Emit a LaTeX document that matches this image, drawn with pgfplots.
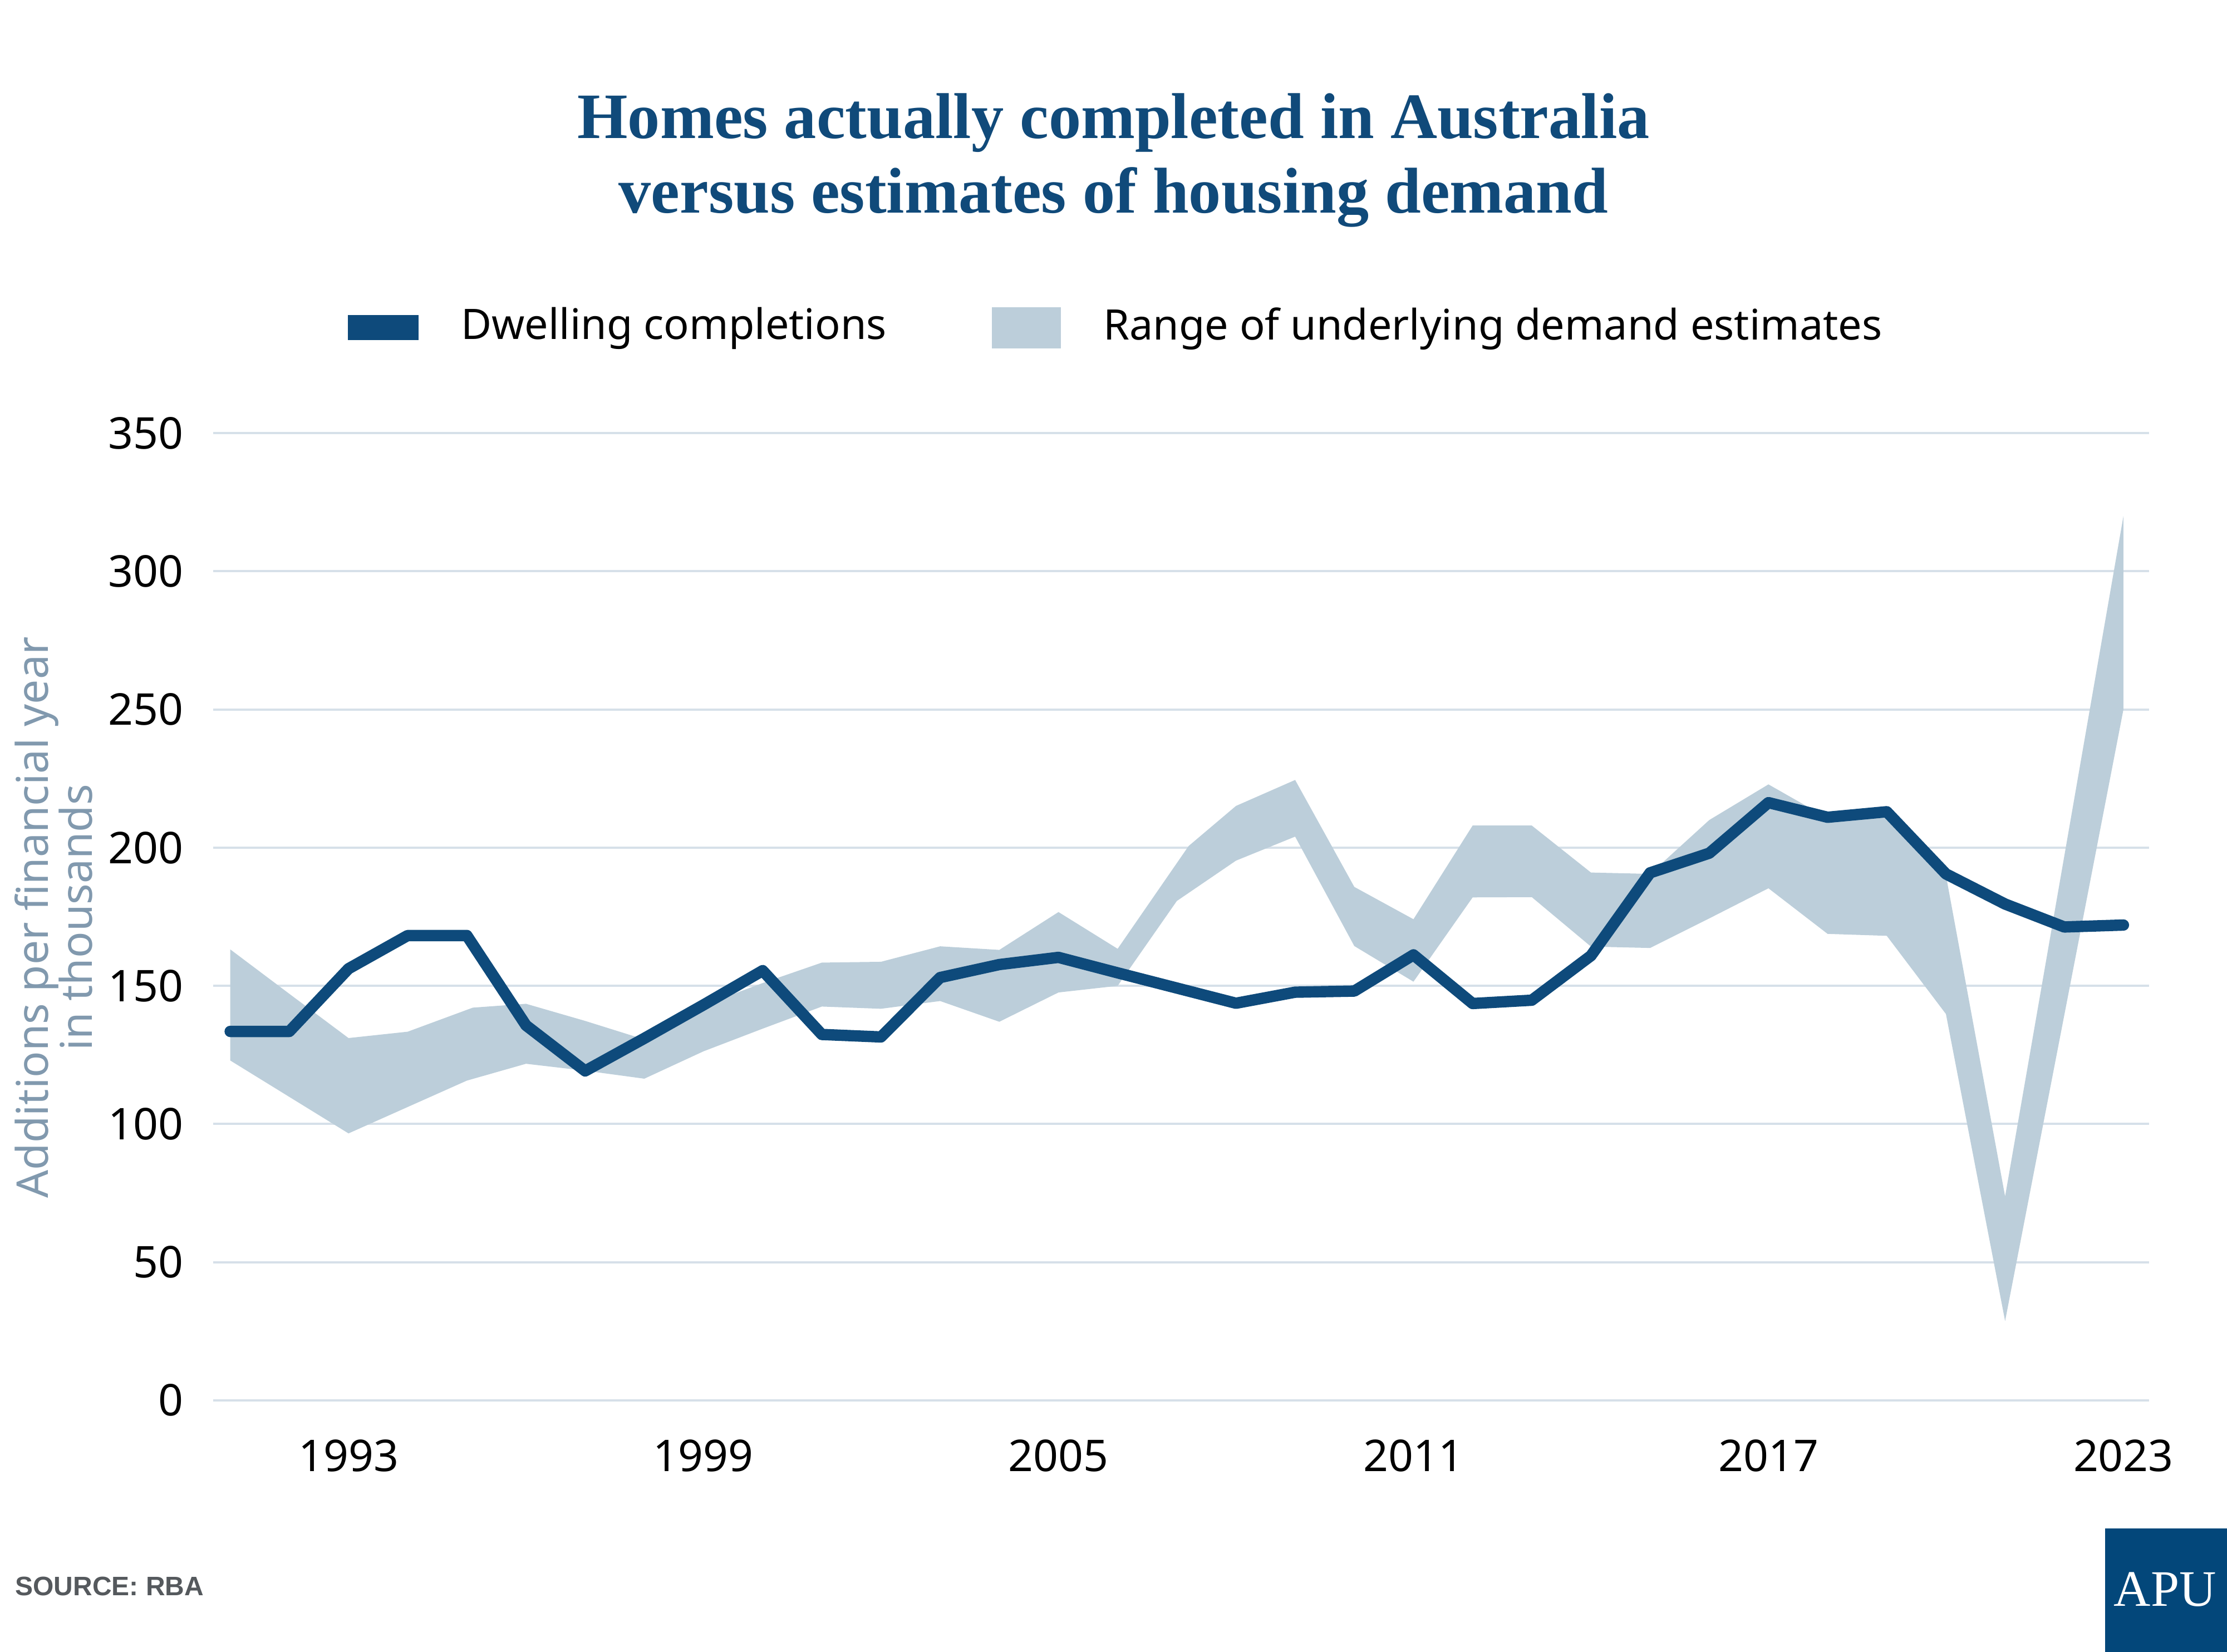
\documentclass[border=0pt]{standalone}
\usepackage{fontspec}
\setmainfont{Noto Sans}
\newfontfamily\titlefont{Liberation Serif}
\newfontfamily\srcfont{Liberation Sans}
\usepackage{pgfplots}
\pgfplotsset{compat=1.18}
\definecolor{navy}{HTML}{0E4A7B}
\definecolor{titleblue}{HTML}{104A7A}
\definecolor{band}{HTML}{BCCEDA}
\definecolor{gridc}{HTML}{D6E0E9}
\definecolor{ylab}{HTML}{8199AE}
\definecolor{srcgray}{HTML}{55595D}
\definecolor{logo}{HTML}{03477A}
\begin{document}
\begin{tikzpicture}
\useasboundingbox (-37.5pt,-44.25pt) rectangle (354.5pt,246.5pt);
\begin{axis}[
  at={(0pt,0pt)}, anchor=south west,
  scale only axis, width=340.75pt, height=170.25pt,
  xmin=1990.71, xmax=2023.43, ymin=0, ymax=350,
  axis line style={draw=none},
  major tick length=0pt,
  ytick={0,50,...,350},
  xtick={1993,1999,2005,2011,2017,2023},
  ymajorgrids, grid style={color=gridc, line width=0.4pt},
  tick label style={font=\fontsize{7.7}{9}\selectfont, text=black},
  yticklabel style={anchor=east, inner sep=0pt, xshift=-5pt},
  xticklabel style={anchor=base, inner sep=0pt, yshift=-12.5pt},
  /pgf/number format/.cd, 1000 sep={}, assume math mode=true,
  /pgfplots/.cd,
  clip=false,
  legend columns=2,
  legend cell align=left,
  legend style={at={(axis description cs:0.0697,1.109)}, anchor=west,
    draw=none, fill=none, inner sep=0pt, outer sep=0pt,
    font=\fontsize{7.4}{9}\selectfont,
    nodes={inner sep=0pt},
    /tikz/every odd column/.append style={column sep=7.5pt},
    /tikz/every even column/.append style={column sep=18.5pt}},
]
\addlegendimage{legend image code/.code={\fill[navy] (0pt,-2pt) rectangle (12pt,2pt);}}
\addlegendentry{Dwelling completions}
\addlegendimage{legend image code/.code={\fill[band] (0pt,-3.4pt) rectangle (11.75pt,3.4pt);}}
\addlegendentry{Range of underlying demand estimates}

% range of underlying demand estimates: upper edge left to right, lower edge right to left
\addplot[fill=band, draw=none, forget plot] coordinates {
 (1991,163.2) (1992,147.1) (1993,131.1) (1994,133.4) (1995.1,142.1) (1996,143.5)
 (1997,137.3) (1998,130.6) (1999,143.0) (2000,151.0) (2001,158.4) (2002,158.7)
 (2003,164.3) (2004,163.0) (2005,176.7) (2006,163.4) (2007.2,200.6) (2008,215.1)
 (2009,224.5) (2010,185.8) (2011,174.1) (2012,208.0) (2013,208.0) (2014,191.0)
 (2015,190.5) (2016,210.0) (2017,222.9) (2018,210.7) (2019,212.0) (2020,190.0)
 (2021,73.8) (2023,320.0)
 (2023,250.0) (2021,28.7) (2020,139.8) (2019,168.1) (2018,168.8) (2017,185.3)
 (2016,174.4) (2015,163.7) (2014,164.2) (2013,182.1) (2012,182.0) (2011,151.5)
 (2010,164.4) (2009,204.0) (2008,195.3) (2007,180.7) (2006,150.0) (2005,147.6)
 (2004,137.0) (2003,144.5) (2002,141.7) (2001,142.5) (2000,134.5) (1999,126.3)
 (1998,116.4) (1997,119.3) (1996,121.8) (1995,115.7) (1993,96.6) (1991,123.0)
} -- cycle;

% dwelling completions
\addplot[navy, line width=2pt, line cap=round, line join=round, forget plot] coordinates {
 (1991,133.5) (1992,133.5) (1993,156.2) (1994,168.2) (1995,168.2) (1996,135.7)
 (1997,119.2) (1998,131.0) (1999,143.1) (2000,155.5) (2001,132.4) (2002,131.5)
 (2003,153.0) (2004,157.7) (2005,160.3) (2006,154.7) (2007,149.2) (2008,143.7)
 (2009,147.7) (2010,148.1) (2011,161.2) (2012,143.6) (2013,144.8) (2014,160.9)
 (2015,190.9) (2016,198.0) (2017,216.3) (2018,211.0) (2019,213.0) (2020,190.5)
 (2021,179.6) (2022,171.3) (2023,172.0)
};
\end{axis}
% title
\node[anchor=base, text=titleblue, font=\titlefont\bfseries\fontsize{11.4}{13}\selectfont] at (158.5pt,222.1pt) {Homes actually completed in Australia};
\node[anchor=base, text=titleblue, font=\titlefont\bfseries\fontsize{11.4}{13}\selectfont] at (158.5pt,209.0pt) {versus estimates of housing demand};
% y label
\node[rotate=90, align=center, text=ylab, font=\fontsize{7.7}{7.75}\selectfont] at (-28.1pt,85pt) {Additions per financial year\\in thousands};
% source
\node[anchor=west, inner sep=0pt, text=srcgray, font=\srcfont\bfseries\fontsize{4.7}{6}\selectfont] at (-35pt,-32.75pt) {SOURCE: RBA};
% logo
\fill[logo] (333pt,-44.25pt) rectangle (354.5pt,-22.5pt);
\node[anchor=base, inner sep=0pt, text=white, font=\titlefont\fontsize{9}{10}\selectfont] at (343.6pt,-36.25pt) {APU};
\end{tikzpicture}
\end{document}
